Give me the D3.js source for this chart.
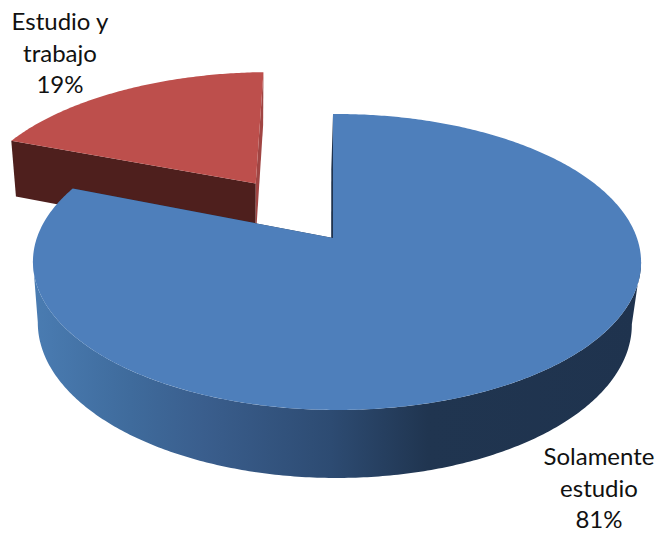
<!DOCTYPE html>
<html>
<head>
<meta charset="utf-8">
<script src="https://cdn.jsdelivr.net/npm/d3@7"></script>
<style>
  html, body { margin: 0; padding: 0; background: #fff; }
  svg { display: block; }
  text { font-family: Lato, "Open Sans", sans-serif; font-size: 24px; fill: #111; text-anchor: middle; }
</style>
</head>
<body>
<svg id="chart" width="660" height="536"></svg>
<script>
// Shares of students by activity, drawn as an exploded 3D pie.
const categories = ["Solamente estudio", "Estudio y trabajo"];
const values = [81, 19];
const explode = [0, 0.49];
const radii = [1, 1.015];
const spinDegrees = [0, -0.6];
const topColors = ["#4e7fbb", "#bd4f4c"];
const startCutColors = ["#1f334e", "#4e1f1d"];
const endCutColors = ["#1f334e", "#a04543"];
const labelLines = [["Solamente", "estudio"], ["Estudio y", "trabajo"]];
const labelAnchors = [[599, 465], [60, 30]];
const wallStops = [
  [0, "#4a7cb2"], [0.16, "#3f6b9c"], [0.28, "#3a5e8d"], [0.49, "#2d4b72"],
  [0.65, "#203550"], [1, "#1f334e"]
];

// Perspective camera: u runs right, v towards the viewer, z down through the disc.
const cam = { cx: 333, cy: 238, sx: 300, sy: 144.1, k: 0.162, m: 0.013, n: 0.023, depth: 62.5, hz: -2 };
function project(u, v, z) {
  const w = 1 - cam.k * v - cam.m * u + cam.n * z;
  return [
    cam.cx + (cam.sx * u + cam.hz * z) / w,
    cam.cy + (cam.sy * v + cam.depth * z) / w
  ];
}

// Part of the curved wall that faces the camera, between the silhouette tangents.
const wallSpan = { startAngle: 99 * Math.PI / 180, endAngle: 261 * Math.PI / 180 };

const pie = d3.pie().sort(null).value(d => d);
const arcs = pie(values);
const line = d3.line();

function offsetOf(a, i) {
  const mid = (a.startAngle + a.endAngle) / 2;
  return [Math.sin(mid) * explode[i], -Math.cos(mid) * explode[i]];
}
const rimPoint = (theta, off, z, r) =>
  project(off[0] + r * Math.sin(theta), off[1] - r * Math.cos(theta), z);

function rim(a, off, z, r, spin) {
  const n = Math.ceil((a.endAngle - a.startAngle) * 90);
  return d3.range(n + 1).map(j => {
    const t = a.startAngle + spin + (a.endAngle - a.startAngle) * j / n;
    return rimPoint(t, off, z, r);
  });
}

const svg = d3.select("#chart");
const defs = svg.append("defs");
const grad = defs.append("linearGradient")
  .attr("id", "wall").attr("gradientUnits", "userSpaceOnUse")
  .attr("x1", 33).attr("x2", 641).attr("y1", 0).attr("y2", 0);
grad.selectAll("stop").data(wallStops).join("stop")
  .attr("offset", d => d[0]).attr("stop-color", d => d[1]);

// Back-to-front: the exploded slice first, then the main slice over it.
[1, 0].forEach(i => {
  const a = arcs[i];
  const off = offsetOf(a, i);
  const r = radii[i];
  const spin = spinDegrees[i] * Math.PI / 180;
  const apexTop = project(off[0], off[1], 0);
  const apexBottom = project(off[0], off[1], 1);
  const startTop = rimPoint(a.startAngle + spin, off, 0, r);
  const startBottom = rimPoint(a.startAngle + spin, off, 1, r);
  const endTop = rimPoint(a.endAngle + spin, off, 0, r);
  const endBottom = rimPoint(a.endAngle + spin, off, 1, r);

  const g = svg.append("g");

  // Radial cut walls
  g.append("path")
    .attr("d", line([apexTop, endTop, endBottom, apexBottom]) + "Z")
    .attr("fill", endCutColors[i]);
  g.append("path")
    .attr("d", line([apexTop, startTop, startBottom, apexBottom]) + "Z")
    .attr("fill", startCutColors[i]);

  // Curved outer wall of the main slice
  if (i === 0) {
    g.append("path")
      .attr("d", line(rim(wallSpan, off, 0, r, spin).concat(rim(wallSpan, off, 1, r, spin).reverse())) + "Z")
      .attr("fill", "url(#wall)");
  }

  // Top face
  g.append("path")
    .attr("d", line([apexTop].concat(rim(a, off, 0, r, spin))) + "Z")
    .attr("fill", topColors[i]);
});

// Category and percentage labels
categories.forEach((c, i) => {
  const rows = labelLines[i].concat([values[i] + "%"]);
  svg.append("text")
    .selectAll("tspan").data(rows).join("tspan")
    .attr("x", labelAnchors[i][0])
    .attr("y", (d, j) => labelAnchors[i][1] + j * 31.5)
    .text(d => d);
});
</script>
</body>
</html>
